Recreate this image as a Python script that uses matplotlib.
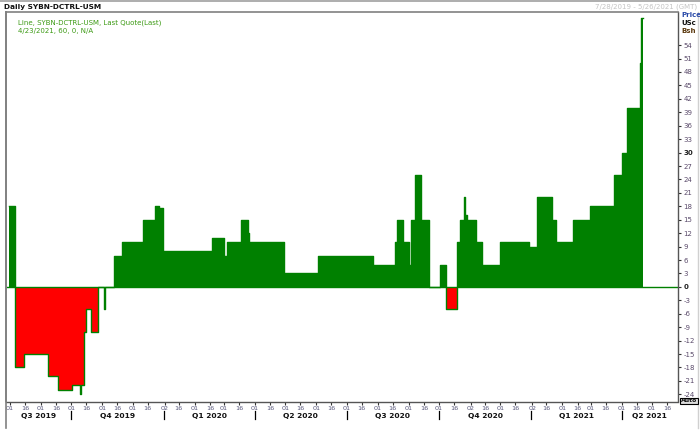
import matplotlib
matplotlib.use("Agg")
import matplotlib.pyplot as plt
import matplotlib.transforms as mtransforms
from matplotlib.lines import Line2D
import numpy as np
import pandas as pd

# step series: value holds from each date until the next one
dates = ['2019-07-31', '2019-08-06', '2019-08-15', '2019-09-08', '2019-09-18',
         '2019-10-02', '2019-10-10', '2019-10-11', '2019-10-14', '2019-10-16',
         '2019-10-21', '2019-10-28', '2019-11-03', '2019-11-04', '2019-11-13',
         '2019-11-20', '2019-12-11', '2019-12-23', '2019-12-27', '2019-12-31',
         '2020-02-18', '2020-03-01', '2020-03-04', '2020-03-18', '2020-03-25',
         '2020-03-26', '2020-04-30', '2020-06-03', '2020-07-27', '2020-08-18',
         '2020-08-20', '2020-08-26', '2020-09-01', '2020-09-03', '2020-09-07',
         '2020-09-13', '2020-09-21', '2020-10-02', '2020-10-08', '2020-10-19',
         '2020-10-22', '2020-10-26', '2020-10-27', '2020-10-29', '2020-11-07',
         '2020-11-13', '2020-12-01', '2020-12-30', '2021-01-07', '2021-01-22',
         '2021-01-26', '2021-02-11', '2021-02-28', '2021-03-24', '2021-04-01',
         '2021-04-06', '2021-04-19', '2021-04-20', '2021-04-22']
values = [18, -18, -15, -20, -23, -22, -24, -22, -10, -5,
          -10, 0, -5, 0, 7, 10, 15, 18, 17.7, 8,
          11, 7, 10, 15, 12, 10, 3, 7, 5, 10,
          15, 10, 5, 15, 25, 15, 0, 5, -5, 10,
          15, 20, 16, 15, 10, 5, 10, 9, 20, 15,
          10, 15, 18, 25, 30, 40, 50, 60, 60]

quarter_names = ['Q3 2019', 'Q4 2019', 'Q1 2020', 'Q2 2020', 'Q3 2020',
                 'Q4 2020', 'Q1 2021', 'Q2 2021']
quarter_bounds = ['2019-07-28', '2019-10-01', '2020-01-01', '2020-04-01', '2020-07-01',
                  '2020-10-01', '2021-01-01', '2021-04-01', '2021-05-27']

# first-of-month labels that the chart shows as "02"
late_firsts = ['2020-01', '2020-11', '2021-01']

x = pd.to_datetime(dates)
v = np.array(values, dtype=float)

GREEN = '#008000'
RED = '#ff0000'

fig = plt.figure(figsize=(7, 4.3), dpi=100)
ax = fig.add_axes([6/700, 1-401.5/430, 672/700, 389.5/430])

ax.fill_between(x, np.maximum(v, 0), 0, step='post', color=GREEN, lw=0)
ax.fill_between(x, np.minimum(v, 0), 0, step='post', color=RED, lw=0)
ax.axhline(0, color=GREEN, lw=1.0)
ax.step(x, v, where='post', color=GREEN, lw=1.0)

ax.set_xlim(pd.Timestamp('2019-07-28'), pd.Timestamp('2021-05-27'))
ax.set_ylim(-25.6, 61.4)

# right price axis
ax.yaxis.tick_right()
yt = np.arange(-24, 55, 3)
ax.set_yticks(yt)
ax.set_yticklabels([str(t) for t in yt])
ax.tick_params(axis='y', length=2, width=0.8, pad=2, labelsize=5.0,
               labelcolor='#5a4a6a', color='#333333')
for lab in ax.get_yticklabels():
    if lab.get_text() in ('30', '0'):
        lab.set_fontweight('bold')
        lab.set_color('#222222')

# bottom date axis: 01 and 16 of each month
ticks, tlabels = [], []
for m in pd.date_range('2019-08-01', '2021-05-01', freq='MS'):
    d1 = 2 if m.strftime('%Y-%m') in late_firsts else 1
    ticks += [m + pd.Timedelta(days=d1 - 1), m + pd.Timedelta(days=15)]
    tlabels += ['%02d' % d1, '16']
ax.set_xticks(ticks)
ax.set_xticklabels(tlabels)
ax.tick_params(axis='x', length=2.5, width=0.8, pad=1, labelsize=4.6,
               labelcolor='#55557a', color='#333333')

trans = mtransforms.blended_transform_factory(ax.transData, ax.transAxes)
qb = pd.to_datetime(quarter_bounds)
for i, name in enumerate(quarter_names):
    mid = qb[i] + (qb[i+1] - qb[i]) / 2
    ax.text(mid, -0.0375, name, transform=trans, ha='center', va='center',
            fontsize=5.4, fontweight='bold', color='#111111')
for b in qb[1:-1]:
    ax.plot([b, b], [-0.0244, -0.0449], transform=trans, color='black',
            lw=0.9, clip_on=False)

for s in ['left', 'top']:
    ax.spines[s].set_color('#808080')
    ax.spines[s].set_linewidth(1.2)
for s in ['right', 'bottom']:
    ax.spines[s].set_color('#555555')
    ax.spines[s].set_linewidth(1.0)

# window frame lines
fig.add_artist(Line2D([0, 1], [1-0.5/430, 1-0.5/430], color='#a0a0a0', lw=1.2))
fig.add_artist(Line2D([5.5/700, 5.5/700], [1-12/430, 1-428/430], color='#808080', lw=1.2))
fig.add_artist(Line2D([698/700, 698/700], [1-12/430, 1-428/430], color='#d0d0d0', lw=1.0))

# header texts
fig.text(4/700, 1-6.5/430, 'Daily SYBN-DCTRL-USM', fontsize=5.3, fontweight='bold',
         va='center', ha='left', color='#111111')
fig.text(697/700, 1-6.5/430, '7/28/2019 - 5/26/2021 (GMT)', fontsize=5.0,
         va='center', ha='right', color='#c4c4c4')
fig.text(18/700, 1-23/430, 'Line, SYBN-DCTRL-USM, Last Quote(Last)', fontsize=5.0,
         va='center', ha='left', color='#3c9a14')
fig.text(18/700, 1-31/430, '4/23/2021, 60, 0, N/A', fontsize=5.0,
         va='center', ha='left', color='#3c9a14')
fig.text(681/700, 1-15/430, 'Price', fontsize=5.0, fontweight='bold',
         va='center', ha='left', color='#2a4aa8')
fig.text(681/700, 1-23/430, 'USc', fontsize=5.0, fontweight='bold',
         va='center', ha='left', color='#111111')
fig.text(681/700, 1-31/430, 'Bsh', fontsize=5.0, fontweight='bold',
         va='center', ha='left', color='#5c3a10')
fig.text(681/700, 1-401/430, 'Auto', fontsize=4.4, fontweight='bold',
         va='center', ha='left', color='#111111',
         bbox=dict(facecolor='#dcdcdc', edgecolor='black', pad=0.4, lw=0.8))

fig.savefig('out.png', dpi=100)
